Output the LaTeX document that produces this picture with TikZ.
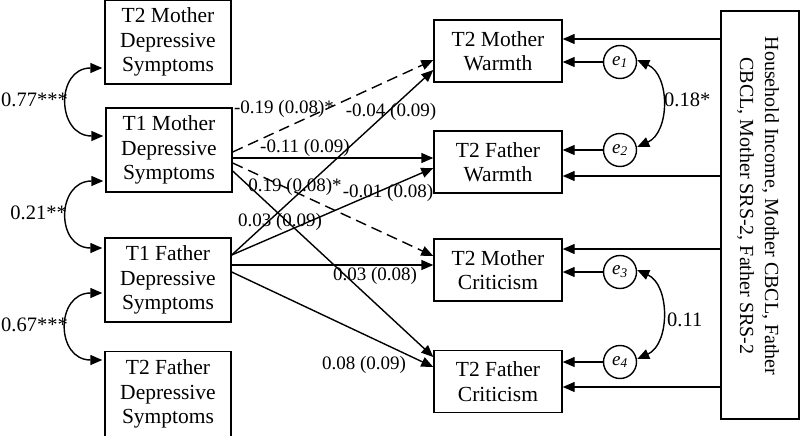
\documentclass[tikz,border=0pt]{standalone}
\usepackage{fontspec}
\setmainfont{Liberation Serif}
\usetikzlibrary{arrows.meta}
\begin{document}
\begin{tikzpicture}[x=1pt,y=-1pt,
  box/.style={draw,line width=1.4pt,align=center,inner sep=0pt,font=\fontsize{21.5}{24.5}\selectfont},
  lbox/.style={box,minimum width=126pt,minimum height=84pt},
  rbox/.style={box,minimum width=128pt,minimum height=62pt},
  err/.style={circle,draw,line width=1.4pt,minimum size=33pt,inner sep=0pt,font=\fontsize{19}{22}\selectfont},
  tip/.tip={Triangle[length=12pt,width=10pt]},
  arr/.style={line width=1.4pt,-tip},
  darr/.style={arr,dash pattern=on 11pt off 6pt},
  cov/.style={line width=1.4pt,tip-tip},
  lab/.style={font=\fontsize{19}{22}\selectfont,inner sep=0pt},
  clab/.style={font=\fontsize{20.5}{24}\selectfont,inner sep=0pt}]
\useasboundingbox (0,0) rectangle (800,436);
% left boxes
\node[lbox] (t2m) at (168,42) {T2 Mother\\Depressive\\Symptoms};
\node[lbox] (t1m) at (169,150) {T1 Mother\\Depressive\\Symptoms};
\node[lbox] (t1f) at (168,280) {T1 Father\\Depressive\\Symptoms};
\node[lbox,minimum height=85pt] (t2f) at (168,394) {T2 Father\\Depressive\\Symptoms};
% right boxes
\node[rbox] (mw) at (498,51) {T2 Mother\\Warmth};
\node[rbox] (fw) at (498,162) {T2 Father\\Warmth};
\node[rbox] (mc) at (498,270) {T2 Mother\\Criticism};
\node[rbox] (fc) at (498,381.5) {T2 Father\\Criticism};
% covariates
\node[draw,line width=1.4pt,minimum width=78pt,minimum height=408pt,inner sep=0pt] (cv) at (760,215) {};
\node[rotate=-90,align=center,inner sep=0pt,font=\fontsize{20}{25}\selectfont] (cvt) at (758,206)
  {Household Income, Mother CBCL, Father\\CBCL, Mother SRS-2, Father SRS-2};
% error terms
\node[err] (e1) at (620,62) {\itshape e\textsubscript{1}};
\node[err] (e2) at (620,150) {\itshape e\textsubscript{2}};
\node[err] (e3) at (620,272) {\itshape e\textsubscript{3}};
\node[err] (e4) at (620,362) {\itshape e\textsubscript{4}};
% covariate arrows
\draw[arr] (cv.west |- 0,39) -- (mw.east |- 0,39);
\draw[arr] (cv.west |- 0,176) -- (fw.east |- 0,176);
\draw[arr] (cv.west |- 0,249) -- (mc.east |- 0,249);
\draw[arr] (cv.west |- 0,387) -- (fc.east |- 0,387);
% error arrows
\draw[arr] (e1.west) -- (mw.east |- e1.west);
\draw[arr] (e2.west) -- (fw.east |- e2.west);
\draw[arr] (e3.west) -- (mc.east |- e3.west);
\draw[arr] (e4.west) -- (fc.east |- e4.west);
% error covariances
\draw[cov] ([yshift=2pt]e1.east) .. controls +(33,15) and +(33,-15) .. ([yshift=3pt]e2.east);
\draw[cov] ([yshift=2pt]e3.east) .. controls +(33,15) and +(33,-15) .. ([yshift=3pt]e4.east);
\node[clab,anchor=west] (l18) at (664,100) {0.18*};
\node[clab,anchor=west] (l11) at (667,320) {0.11};
% left covariances
\draw[cov] ([xshift=-2pt]t2m.west |- 0,68) .. controls +(-47,0) and +(-47,0) .. ([xshift=-2pt]t1m.west |- 0,136);
\draw[cov] ([xshift=-2pt]t1m.west |- 0,181) .. controls +(-47,0) and +(-47,0) .. ([xshift=-2pt]t1f.west |- 0,248);
\draw[cov] ([xshift=-2pt]t1f.west |- 0,293) .. controls +(-47,0) and +(-47,0) .. ([xshift=-2pt]t2f.west |- 0,360);
\node[clab,anchor=east] (l77) at (68,100) {0.77***};
\node[clab,anchor=east] (l21) at (67,213) {0.21**};
\node[clab,anchor=east] (l67) at (68,325) {0.67***};
% paths from T1 Mother
\draw[darr] (t1m.east |- 0,152) -- (mw.west |- 0,60);
\draw[arr]  (t1m.east |- 0,158) -- (fw.west |- 0,158);
\draw[darr] (t1m.east |- 0,163) -- (mc.west |- 0,256);
\draw[arr]  (t1m.east |- 0,171) -- (fc.west |- 0,357);
% paths from T1 Father
\draw[arr] (t1f.east |- 0,255) -- (mw.west |- 0,70);
\draw[arr] (t1f.east |- 0,255) -- (fw.west |- 0,168);
\draw[arr] (t1f.east |- 0,265) -- (mc.west |- 0,265);
\draw[arr] (t1f.east |- 0,272) -- (fc.west |- 0,367);
% path labels
\node[lab] (p1) at (284,109) {-0.19 (0.08)*};
\node[lab] (p2) at (391,112) {-0.04 (0.09)};
\node[lab] (p3) at (305,148) {-0.11 (0.09)};
\node[lab] (p4) at (295,187) {0.19 (0.08)*};
\node[lab] (p5) at (388,193) {-0.01 (0.08)};
\node[lab] (p6) at (280,222) {0.03 (0.09)};
\node[lab] (p7) at (375,276) {0.03 (0.08)};
\node[lab] (p8) at (364,365) {0.08 (0.09)};
\end{tikzpicture}
\end{document}
